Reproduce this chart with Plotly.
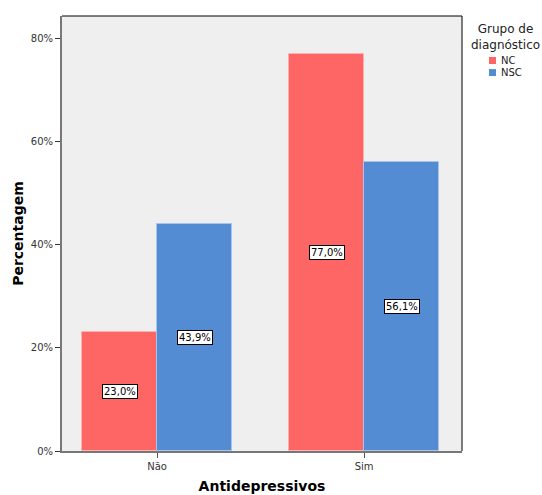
import plotly.graph_objects as go

categories = ["Não", "Sim"]
nc_values = [23.0, 77.0]
nsc_values = [43.9, 56.1]
nc_labels = ["23,0%", "77,0%"]
nsc_labels = ["43,9%", "56,1%"]
y_ticks = [0, 20, 40, 60, 80]
y_tick_labels = ["0%", "20%", "40%", "60%", "80%"]
series_names = ["NC", "NSC"]
series_colors = ["#fe6666", "#548cd3"]
series_edges = ["#ffb0b0", "#a9c4ea"]

xpos = list(range(len(categories)))
bw = 0.362

fig = go.Figure()
fig.add_trace(go.Bar(x=xpos, y=nc_values, name=series_names[0], width=bw, offset=-bw,
                     marker=dict(color=series_colors[0], line=dict(color=series_edges[0], width=1))))
fig.add_trace(go.Bar(x=xpos, y=nsc_values, name=series_names[1], width=bw, offset=0,
                     marker=dict(color=series_colors[1], line=dict(color=series_edges[1], width=1))))

for i, x in enumerate(xpos):
    fig.add_annotation(x=x - bw / 2, y=nc_values[i] / 2, text=nc_labels[i], showarrow=False,
                       bgcolor="white", bordercolor="black", borderwidth=1, borderpad=1,
                       font=dict(size=10, color="black", family="DejaVu Sans"))
    fig.add_annotation(x=x + bw / 2, y=nsc_values[i] / 2, text=nsc_labels[i], showarrow=False,
                       bgcolor="white", bordercolor="black", borderwidth=1, borderpad=1,
                       font=dict(size=10, color="black", family="DejaVu Sans"))

# manual legend
fig.add_annotation(xref="paper", yref="paper", x=1.108, y=0.99, xanchor="center", yanchor="top",
                   text="Grupo de<br>diagnóstico", showarrow=False, align="center",
                   font=dict(size=12, color="#222222", family="DejaVu Sans"))
leg_y = [(0.8897, 0.9057), (0.862, 0.878)]
for (y0, y1), name, col in zip(leg_y, series_names, series_colors):
    fig.add_shape(type="rect", xref="paper", yref="paper", x0=1.0675, x1=1.085, y0=y0, y1=y1,
                  fillcolor=col, line=dict(width=0))
    fig.add_annotation(xref="paper", yref="paper", x=1.0925, y=(y0 + y1) / 2, xanchor="left",
                       yanchor="middle", text=name, showarrow=False,
                       font=dict(size=10, color="#222222", family="DejaVu Sans"))

fig.update_layout(
    width=542, height=495,
    margin=dict(l=62, r=80, t=16, b=44, autoexpand=False),
    paper_bgcolor="white", plot_bgcolor="#efefef",
    font=dict(family="DejaVu Sans", size=10, color="#333333"),
    showlegend=False,
    bargap=0,
)
fig.update_xaxes(range=[-0.459, 1.473], tickvals=xpos, ticktext=categories, automargin=False,
                 ticks="outside", ticklen=5, tickcolor="#555555", tickwidth=1,
                 showline=True, linecolor="#777777", linewidth=2, showgrid=False, zeroline=False,
                 title=dict(text="<b>Antidepressivos</b>", font=dict(size=14, color="black"), standoff=10))
fig.update_yaxes(range=[0, 84.3], tickvals=y_ticks, ticktext=y_tick_labels, automargin=False,
                 ticks="outside", ticklen=5, tickcolor="#333333", tickwidth=1,
                 showline=True, linecolor="#777777", linewidth=2, showgrid=False, zeroline=False,
                 title=dict(text="<b>Percentagem</b>", font=dict(size=14, color="black"), standoff=4))
fig.add_shape(type="line", xref="paper", yref="paper", x0=0, x1=1, y0=1, y1=1,
              line=dict(color="black", width=1))
fig.add_shape(type="line", xref="paper", yref="paper", x0=1, x1=1, y0=0, y1=1,
              line=dict(color="black", width=1))

fig.write_html("out.html")
